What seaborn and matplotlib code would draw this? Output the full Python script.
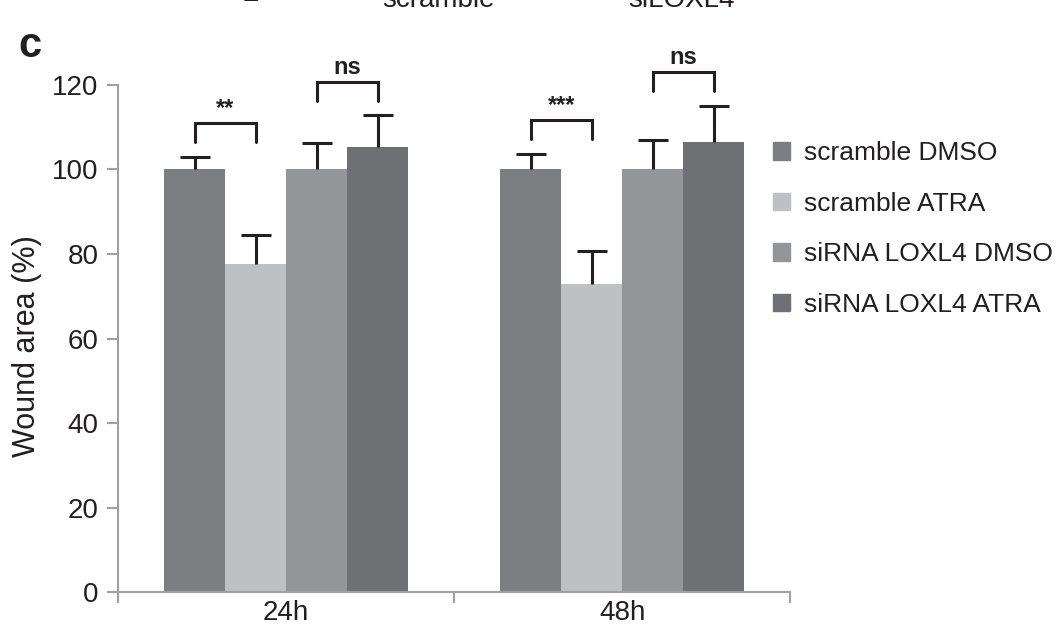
import numpy as np
import pandas as pd
import seaborn as sns
from matplotlib import pyplot as plt

times = ["24h", "48h"]
groups = ["scramble DMSO", "scramble ATRA", "siRNA LOXL4 DMSO", "siRNA LOXL4 ATRA"]
wound_24h = [100.0, 77.6, 100.0, 105.3]
wound_48h = [100.0, 72.8, 100.0, 106.5]
err_24h = [3.0, 7.0, 6.3, 7.5]
err_48h = [3.7, 7.8, 7.0, 8.6]
colors = ["#7d7e82", "#bfc0c3", "#949598", "#6f7074"]
# significance pairs: (time, group a, group b, label)
sig_pairs = [
    ("24h", 0, 1, "**"),
    ("24h", 2, 3, "ns"),
    ("48h", 0, 1, "***"),
    ("48h", 2, 3, "ns"),
]


def main() -> None:
    rows = []
    for t, vals, errs in [("24h", wound_24h, err_24h), ("48h", wound_48h, err_48h)]:
        for g, v, e in zip(groups, vals, errs):
            rows.append({"time": t, "group": g, "value": v, "err": e})
    df = pd.DataFrame(rows)

    sns.set_theme(style="white")
    plt.rcParams["font.family"] = ["Liberation Sans", "DejaVu Sans"]

    fig = plt.figure(figsize=(10.57, 6.37), dpi=100)
    ax = fig.add_axes([0.1116, 0.0706, 0.636, 0.796])

    sns.barplot(data=df, x="time", y="value", hue="group", order=times,
                hue_order=groups, palette=colors, errorbar=None, width=0.726,
                saturation=1, ax=ax, linewidth=0)

    # error bars (upper only, T shape) and bar centres
    centers = {}
    tops = {}
    bar_containers = list(ax.containers)
    for gi, cont in enumerate(bar_containers):
        for ti, bar in enumerate(cont):
            x = bar.get_x() + bar.get_width() / 2
            h = bar.get_height()
            row = df[(df["time"] == times[ti]) & (df["group"] == groups[gi])].iloc[0]
            _, caps, _ = ax.errorbar(x, h, yerr=[[0], [row["err"]]], fmt="none",
                                     ecolor="#231f20", elinewidth=2.2, capsize=11,
                                     capthick=2.2, clip_on=False)
            caps[0].set_visible(False)
            centers[(times[ti], gi)] = x
            tops[(times[ti], gi)] = h + row["err"]

    for t, a, b, label in sig_pairs:
        xa, xb = centers[(t, a)], centers[(t, b)]
        base = max(tops[(t, a)], tops[(t, b)]) + 3.5
        top = base + 4.5
        ax.plot([xa, xa, xb, xb], [base, top, top, base], color="#231f20", lw=2.2,
                clip_on=False, solid_joinstyle="miter")
        ax.text((xa + xb) / 2, top + 0.6, label, ha="center", va="bottom",
                fontsize=17, fontweight="bold", color="#231f20")

    ax.set_ylim(0, 120)
    ax.set_xlim(-0.5, 1.5)
    ax.set_yticks(np.arange(0, 121, 20))
    ax.set_xlabel("")
    ax.set_ylabel("Wound area (%)", fontsize=22, color="#231f20")
    ax.yaxis.set_label_coords(-0.113, 0.485)
    ax.tick_params(axis="y", labelsize=20, colors="#231f20", length=8, width=1.5,
                   color="#a0a0a0", direction="out", left=True, pad=6)
    ax.tick_params(axis="x", labelsize=20, colors="#231f20", length=0, pad=6)
    ax.set_xticks([-0.5, 0.5, 1.5], minor=True)
    ax.tick_params(axis="x", which="minor", length=8, width=1.5, color="#a0a0a0",
                   direction="out", bottom=True)
    for side in ["top", "right"]:
        ax.spines[side].set_visible(False)
    for side in ["left", "bottom"]:
        ax.spines[side].set_color("#a0a0a0")
        ax.spines[side].set_linewidth(1.5)

    ax.legend_.remove()
    handles = [plt.Rectangle((0, 0), 1, 1, color=c) for c in colors]
    fig.legend(handles, groups, loc="upper left", bbox_to_anchor=(0.731, 0.778),
               frameon=False, fontsize=19, handlelength=0.65, handleheight=0.65,
               handletextpad=0.55, labelspacing=1.0, labelcolor="#231f20",
               borderaxespad=0, borderpad=0)

    # panel label and clipped labels of the panel above
    fig.text(0.017, 0.928, "c", fontsize=30, fontweight="bold", color="#231f20",
             ha="left", va="center")
    fig.text(0.237, 0.997, "\u2212", fontsize=20, color="#231f20", ha="center", va="center")
    fig.text(0.415, 1.0, "scramble", fontsize=20, color="#231f20", ha="center", va="center")
    fig.text(0.645, 1.0, "siLOXL4", fontsize=20, color="#231f20", ha="center", va="center")

    fig.savefig("out.png", dpi=100)
    plt.close(fig)


if __name__ == "__main__":
    main()
